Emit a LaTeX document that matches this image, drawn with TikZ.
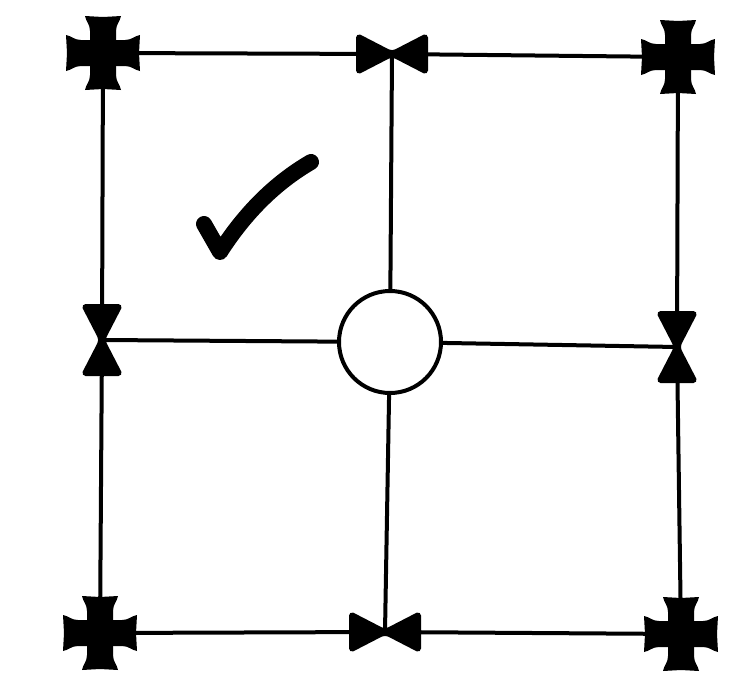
\documentclass[tikz,border=0pt]{standalone}
\begin{document}
\begin{tikzpicture}[x=1pt,y=-1pt,
  wire/.style={line width=4pt},
  maltese/.pic={
    \foreach \r in {0,90,180,270}{
      \fill[black, rotate=\r]
        (-13,0) -- (-13,-22) .. controls (-13,-29) and (-17,-31) .. (-18,-37)
        -- (0,-36) -- (18,-37) .. controls (17,-31) and (13,-29) .. (13,-22) -- (13,0) -- cycle;
    }
  },
  bowtie/.pic={
    \fill[black, rounded corners=1.5pt]
      (-36,-18) -- (-33,-20) -- (-2,-4) -- (2,-4) -- (33,-20) -- (36,-18)
      -- (36,18) -- (33,20) -- (2,4) -- (-2,4) -- (-33,20) -- (-36,18) -- cycle;
  },
  valve/.style={circle, draw, line width=4pt, fill=white, minimum size=102pt, inner sep=0pt},
  tick/.style={line width=16pt, line cap=round, line join=round}
]
\useasboundingbox (0,0) rectangle (745,688);
\fill[white] (0,0) rectangle (745,688);

\coordinate (TL) at (103,53);
\coordinate (TM) at (392,54);
\coordinate (TR) at (678,57);
\coordinate (LM) at (102,340);
\coordinate (RM) at (677,347);
\coordinate (BL) at (100,633);
\coordinate (BM) at (385,632);
\coordinate (BR) at (681,634);
\node[valve] (C) at (390,342) {};

\draw[wire] (TL) -- (TM) -- (TR);
\draw[wire] (BL) -- (BM) -- (BR);
\draw[wire] (TL) -- (LM) -- (BL);
\draw[wire] (TR) -- (RM) -- (BR);
\draw[wire] (LM) -- (C);
\draw[wire] (C) -- (RM);
\draw[wire] (TM) -- (C);
\draw[wire] (C) -- (BM);

\pic at (TL) {maltese};
\pic at (TR) {maltese};
\pic at (BL) {maltese};
\pic at (BR) {maltese};
\pic at (TM) {bowtie};
\pic at (BM) {bowtie};
\pic[rotate=90] at (LM) {bowtie};
\pic[rotate=90] at (RM) {bowtie};

\draw[tick] (204,224) -- (220,252) .. controls (245,213) and (275,183) .. (311,162);
\end{tikzpicture}
\end{document}
